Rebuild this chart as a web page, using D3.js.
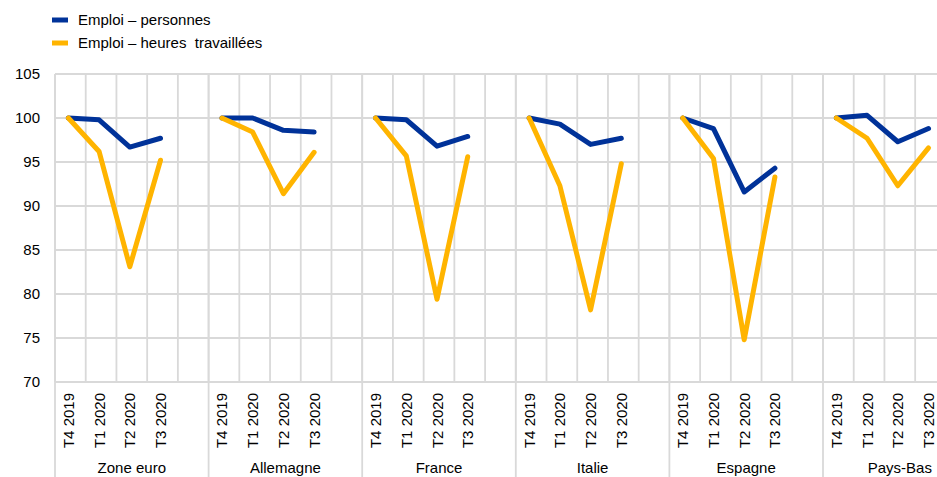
<!DOCTYPE html>
<html>
<head>
<meta charset="utf-8">
<script src="https://cdn.jsdelivr.net/npm/d3@7"></script>
<style>
  html, body { margin: 0; padding: 0; background: #fff; }
  svg { display: block; font-family: Arial, "Liberation Sans", sans-serif; }
</style>
</head>
<body>
<svg id="chart" width="937" height="477"></svg>
<script>
// Employment indices (T4 2019 = 100)
const groups = ["Zone euro", "Allemagne", "France", "Italie", "Espagne", "Pays-Bas"];
const quarters = ["T4 2019", "T1 2020", "T2 2020", "T3 2020"];
const yTicks = [70, 75, 80, 85, 90, 95, 100, 105];

const personnes = [
  [100, 99.8, 96.7, 97.7],
  [100, 100.0, 98.6, 98.4],
  [100, 99.8, 96.8, 97.9],
  [100, 99.3, 97.0, 97.7],
  [100, 98.8, 91.6, 94.3],
  [100, 100.3, 97.3, 98.8]
];
const heures = [
  [100, 96.2, 83.1, 95.2],
  [100, 98.4, 91.4, 96.1],
  [100, 95.7, 79.4, 95.6],
  [100, 92.3, 78.2, 94.8],
  [100, 95.4, 74.8, 93.3],
  [100, 97.7, 92.3, 96.6]
];

const seriesNames = ["Emploi \u2013 personnes", "Emploi \u2013 heures  travaill\u00e9es"];
const colors = ["#003299", "#ffb400"];

const svg = d3.select("#chart");
const plotLeft = 55, plotTop = 74, plotBottom = 382;
const groupW = 153.6;
const fontSize = 15;

const x0 = d3.scaleBand().domain(groups).range([plotLeft, plotLeft + groups.length * groupW]);
const x1 = d3.scaleBand().domain([...quarters, "gap"]).range([0, x0.bandwidth()]);
const y = d3.scaleLinear().domain([70, 105]).range([plotBottom, plotTop]);
const rightEdge = x0.range()[1];
const gridColor = "#d9d9d9";
const gridWidth = 1.8;

// horizontal grid
svg.append("g").selectAll("line").data(yTicks).join("line")
  .attr("x1", plotLeft).attr("x2", rightEdge)
  .attr("y1", d => y(d)).attr("y2", d => y(d))
  .attr("stroke", gridColor).attr("stroke-width", gridWidth);

// vertical grid at slot boundaries
const slotEdges = [];
groups.forEach(g => x1.domain().forEach(q => slotEdges.push(x0(g) + x1(q))));
svg.append("g").selectAll("line").data(slotEdges).join("line")
  .attr("x1", d => d).attr("x2", d => d)
  .attr("y1", plotTop).attr("y2", plotBottom)
  .attr("stroke", gridColor).attr("stroke-width", gridWidth);

// group separators extend below the axis
svg.append("g").selectAll("line").data(groups).join("line")
  .attr("x1", d => x0(d)).attr("x2", d => x0(d))
  .attr("y1", plotTop).attr("y2", 477)
  .attr("stroke", gridColor).attr("stroke-width", gridWidth);

// x axis baseline
svg.append("line")
  .attr("x1", plotLeft).attr("x2", rightEdge)
  .attr("y1", plotBottom).attr("y2", plotBottom)
  .attr("stroke", gridColor).attr("stroke-width", gridWidth);

// y tick labels
svg.append("g").selectAll("text").data(yTicks).join("text")
  .attr("x", 40).attr("y", d => y(d)).attr("dy", "0.35em")
  .attr("text-anchor", "end").attr("font-size", fontSize).attr("fill", "#000")
  .text(d => d);

// quarter labels (rotated)
const qLabels = [];
groups.forEach(g => quarters.forEach(q => qLabels.push({ g, q })));
svg.append("g").selectAll("text").data(qLabels).join("text")
  .attr("transform", d => `translate(${x0(d.g) + x1(d.q) + x1.bandwidth() / 2 + 3.5},393) rotate(-90)`)
  .attr("text-anchor", "end").attr("font-size", fontSize).attr("fill", "#000")
  .text(d => d.q);

// group labels
svg.append("g").selectAll("text").data(groups).join("text")
  .attr("x", d => x0(d) + x0.bandwidth() / 2)
  .attr("y", 473)
  .attr("text-anchor", "middle").attr("font-size", fontSize).attr("fill", "#000")
  .text(d => d);

// lines, one segment per group; hours series drawn on top
const line = d3.line().x(d => d.x).y(d => y(d.v));
[personnes, heures].forEach((series, si) => {
  const data = groups.map((g, gi) => series[gi].map((v, qi) => ({
    x: x0(g) + x1(quarters[qi]) + x1.bandwidth() / 2 - 2, v
  })));
  svg.append("g").selectAll("path").data(data).join("path")
    .attr("d", line)
    .attr("fill", "none").attr("stroke", colors[si])
    .attr("stroke-width", 5)
    .attr("stroke-linejoin", "round").attr("stroke-linecap", "round");
});

// legend
const legend = svg.append("g");
seriesNames.forEach((name, i) => {
  const ly = 20 + i * 23;
  legend.append("line")
    .attr("x1", 52).attr("x2", 68).attr("y1", ly).attr("y2", ly)
    .attr("stroke", colors[i]).attr("stroke-width", 5);
  legend.append("text")
    .attr("x", 78).attr("y", ly).attr("dy", "0.35em")
    .attr("font-size", fontSize).attr("fill", "#000")
    .attr("xml:space", "preserve")
    .text(name);
});
</script>
</body>
</html>
